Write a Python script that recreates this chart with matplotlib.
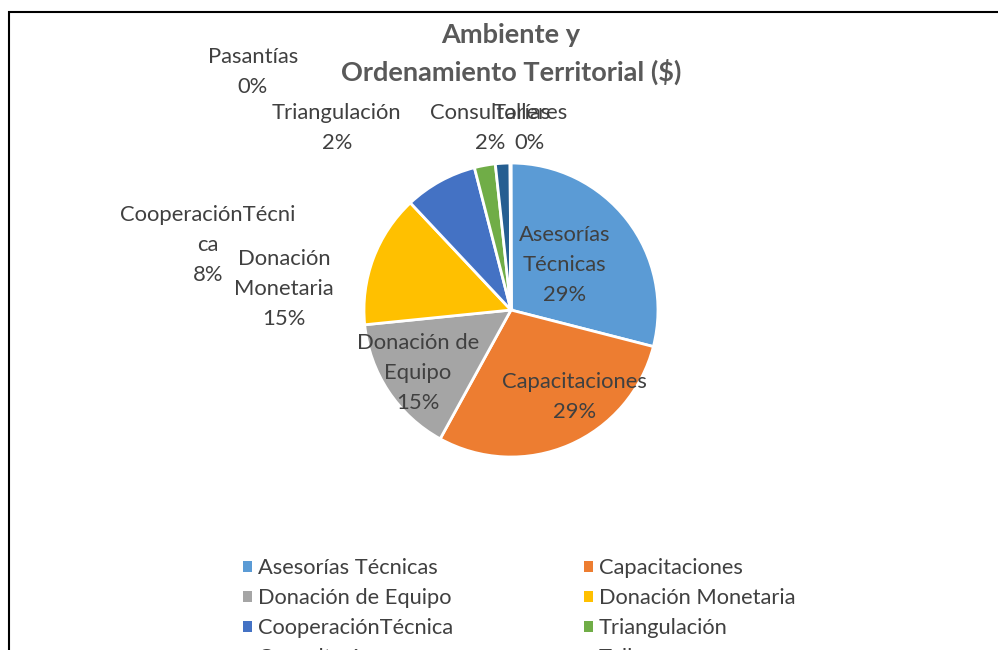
import matplotlib
matplotlib.use("Agg")
import matplotlib.pyplot as plt
from matplotlib.patches import Rectangle

# datos del gráfico
categorias = ["Asesorías Técnicas", "Capacitaciones", "Donación de Equipo",
              "Donación Monetaria", "CooperaciónTécnica", "Triangulación",
              "Consultorías", "Talleres", "Pasantías"]
valores = [29.0, 29.0, 15.4, 14.6, 8.0, 2.3, 1.6, 0.06, 0.04]
colores = ["#5B9BD5", "#ED7D31", "#A5A5A5", "#FFC000", "#4472C4",
           "#70AD47", "#255E91", "#9E480E", "#636363"]
# texto de las etiquetas (con los saltos de línea de Excel)
etiquetas = ["Asesorías\nTécnicas", "Capacitaciones", "Donación de\nEquipo",
             "Donación\nMonetaria", "CooperaciónTécni\nca", "Triangulación",
             "Consultorías", "Talleres", "Pasantías"]
# posición de cada etiqueta (en radios del pastel)
pos_etiquetas = [(0.367, 0.306), (0.435, -0.592), (-0.633, -0.429),
                 (-1.544, 0.143), (-2.061, 0.442), (-1.184, 1.238),
                 (-0.143, 1.238), (0.129, 1.238), (-1.755, 1.619)]

plt.rcParams['font.family'] = ['Lato', 'DejaVu Sans']
gris = "#404040"

fig = plt.figure(figsize=(9.98, 6.5), dpi=100)
ax = fig.add_axes([0.3647, 0.2969, 0.2946, 0.4523])
wedges, _ = ax.pie(valores, colors=colores, startangle=90, counterclock=False,
                   radius=1, wedgeprops=dict(edgecolor="white", linewidth=2))
ax.set_xlim(-1, 1)
ax.set_ylim(-1, 1)
ax.set_aspect("equal")

total = sum(valores)
for v, txt, (x, y) in zip(valores, etiquetas, pos_etiquetas):
    ax.text(x, y, f"{txt}\n{round(v / total * 100)}%", ha="center", va="center",
            fontsize=15.8, color=gris, linespacing=1.6, clip_on=False)

fig.text(0.512, 0.946, "Ambiente y", ha="center", va="center",
         fontsize=19.5, fontweight="bold", color="#595959")
fig.text(0.512, 0.889, "Ordenamiento Territorial ($)", ha="center", va="center",
         fontsize=19.5, fontweight="bold", color="#595959")

# leyenda en filas (como Excel): reordenar para ncol=2
orden = [0, 2, 4, 6, 8, 1, 3, 5, 7]
leg = fig.legend([wedges[i] for i in orden], [categorias[i] for i in orden],
                 ncol=2, loc="upper left", bbox_to_anchor=(0.2435, 0.141),
                 frameon=False, fontsize=15.75, labelcolor=gris,
                 handlelength=0.4, handleheight=0.4, handletextpad=0.27,
                 columnspacing=6.0, labelspacing=0.45, borderaxespad=0,
                 borderpad=0)
for h in leg.legend_handles:
    h.set_edgecolor("none")

# borde del área del gráfico
fig.patches.append(Rectangle((0.0095, -0.1), 1.2, 1.0815, transform=fig.transFigure,
                             fill=False, edgecolor="black", linewidth=1.5))

fig.savefig("out.png", dpi=100)
